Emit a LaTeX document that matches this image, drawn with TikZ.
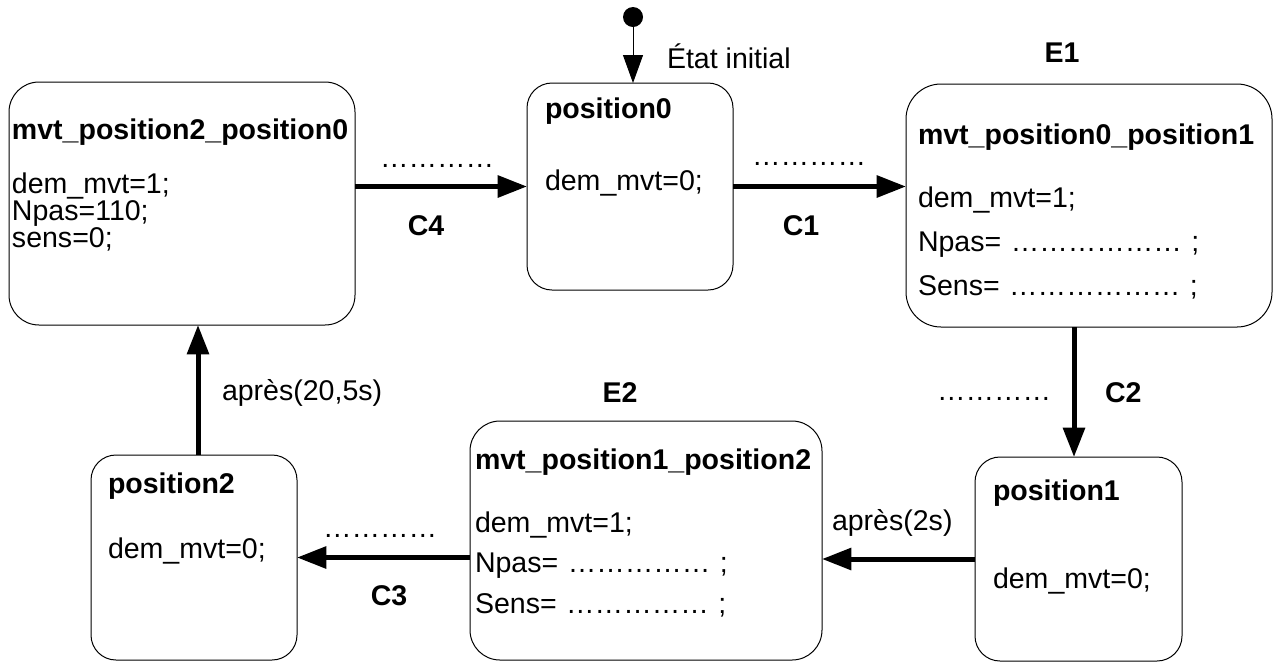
\documentclass[tikz,border=0pt]{standalone}
\usepackage{fontspec}
\setmainfont{Liberation Sans}
\usetikzlibrary{arrows.meta,calc}
\begin{document}
\begin{tikzpicture}[x=0.75pt,y=-0.75pt,
  box/.style={draw, line width=0.75pt, rounded corners=#1, inner sep=0pt, outer sep=0pt},
  txt/.style={anchor=base west, inner sep=0pt, outer sep=0pt, font=\fontsize{21.4}{25}\selectfont},
  ttl/.style={txt, font=\fontsize{21.4}{25}\selectfont\bfseries},
  lbl/.style={anchor=base, inner sep=0pt, outer sep=0pt, font=\fontsize{21.4}{25}\selectfont\bfseries},
  body/.style={txt, text width=250pt, align=left, font=\fontsize{21.4}{#1}\selectfont},
  thick arrow/.style={line width=3.75pt, -{Triangle[length=22pt,width=16pt]}},
  thin arrow/.style={line width=0.75pt, -{Triangle[length=21pt,width=15pt]}}]
\useasboundingbox (0,0) rectangle (1277,662);

% boxes
\node[box=22.5pt, minimum width=259.5pt, minimum height=182.25pt] (A) at (182,203.5) {};
\node[box=18.75pt, minimum width=154.5pt, minimum height=155.25pt] (P0) at (630,186.5) {};
\node[box=26.25pt, minimum width=274.5pt, minimum height=182.25pt] (E1) at (1089,205.5) {};
\node[box=22.5pt, minimum width=264pt, minimum height=179.25pt] (E2) at (646,540.5) {};
\node[box=18.75pt, minimum width=155.25pt, minimum height=153pt] (P1) at (1078.5,559) {};
\node[box=18.75pt, minimum width=154.5pt, minimum height=153.75pt] (P2) at (194,557.5) {};

% box texts
\node[ttl] (At) at (12,139) {mvt\_position2\_position0};
\node[body=20.25pt] (Ab) at (12,193) {dem\_mvt=1;\\Npas=110;\\sens=0;};
\node[ttl] (P0t) at (545,118) {position0};
\node[txt] (P0b) at (545,190) {dem\_mvt=0;};
\node[ttl] (E1t) at (918,144) {mvt\_position0\_position1};
\node[body=33pt] (E1b) at (918,207) {dem\_mvt=1;\\Npas= ……………… ;\\Sens= ……………… ;};
\node[ttl] (E2t) at (475,469) {mvt\_position1\_position2};
\node[body=30.4pt] (E2b) at (475,532) {dem\_mvt=1;\\Npas= …………… ;\\Sens= …………… ;};
\node[ttl] (P1t) at (993,500) {position1};
\node[txt] (P1b) at (993,588) {dem\_mvt=0;};
\node[ttl] (P2t) at (108,493) {position2};
\node[txt] (P2b) at (108,558) {dem\_mvt=0;};

% state labels
\node[lbl] (E1l) at (1062,62) {E1};
\node[lbl] (E2l) at (620,402) {E2};

% initial state
\node[circle, fill=black, inner sep=0pt, minimum size=15pt] (dot) at (633,17) {};
\draw[thin arrow] (dot.south) -- (dot.south |- P0.north);
\node[txt] (init) at (667,68) {État initial};

% transitions
\draw[thick arrow] (A.east |- P0.west) -- (P0.west);
\node[txt] (d4) at (380,167) {…………};
\node[lbl] (C4) at (426,235) {C4};

\draw[thick arrow] (P0.east) -- (P0.east -| E1.west);
\node[txt] (d1) at (752,165) {…………};
\node[lbl] (C1) at (801,235) {C1};

\draw[thick arrow] ($(P1.north |- E1.south)+(-4.5,0)$) -- ($(P1.north)+(-4.5,0)$);
\node[txt] (d2) at (937,400) {…………};
\node[txt, font=\fontsize{21.4}{25}\selectfont\bfseries] (C2) at (1105,402) {C2};

\draw[thick arrow] (P1.west) -- (P1.west -| E2.east);
\node[txt] (t2) at (832,530) {après(2s)};

\draw[thick arrow] (P2.east -| E2.west) -- (P2.east);
\node[txt] (d3) at (323,537) {…………};
\node[lbl] (C3) at (389,605) {C3};

\draw[thick arrow] ($(P2.north)+(4,0)$) -- ($(P2.north |- A.south)+(4,0)$);
\node[txt] (t1) at (222,400) {après(20,5s)};
\end{tikzpicture}
\end{document}
